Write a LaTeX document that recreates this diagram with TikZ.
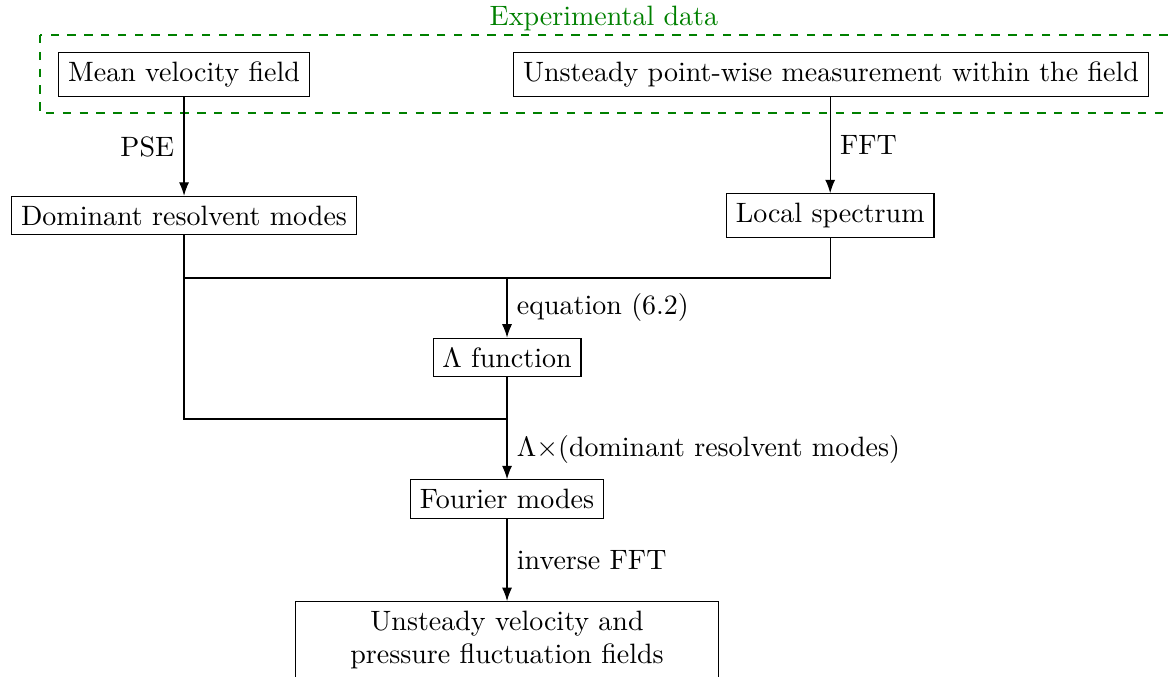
\documentclass[tikz,border=0pt]{standalone}
\usepackage{amsmath,amssymb}
\usepackage{tikz}
\usetikzlibrary{arrows.meta,calc,positioning}
\definecolor{expgreen}{rgb}{0.0,0.5,0.0}

\begin{document}
\begin{tikzpicture}[
  >=Latex,
  block/.style={draw, rectangle, inner sep=3.33pt},
  flow/.style={->},
  label/.style={font=\normalsize},
  expbox/.style={draw=expgreen, dashed}
]
  \useasboundingbox (0,0) rectangle (14.66,-8.497);

  % experimental data
  \draw[expbox] (0.502,-0.439) rectangle (14.72,-1.418);
  \node[text=expgreen] (exp) at (7.58,-0.235) {Experimental data};

  \node[block] (mean) at (2.310,-0.935) {Mean velocity field};
  \node[block] (meas) at (10.43,-0.935) {Unsteady point-wise measurement within the field};

  \node[block] (dom) at (2.310,-2.705) {Dominant resolvent modes};
  \node[block] (loc) at (10.42,-2.705) {Local spectrum};

  \node[block] (lam) at (6.364,-4.487) {$\Lambda$ function};
  \node[block] (four) at (6.364,-6.263) {Fourier modes};
  \node[block, anchor=north, align=center, minimum width=151pt] (out) at (6.364,-7.544)
    {Unsteady velocity and\\pressure fluctuation fields};

  \coordinate (j1) at (6.364,-3.489);
  \coordinate (j2) at (6.364,-5.259);

  \draw[flow] (mean) -- node[left,label] {PSE} (dom);
  \draw[flow] (loc.north |- meas.south) -- node[right,label] {FFT} (loc);

  \draw (dom.south) |- (j2);
  \draw (dom.south |- j1) -| (loc.south);
  \draw[flow] (j1) -- node[right,label] {equation (6.2)} (lam);
  \draw (lam) -- (j2);
  \draw[flow] (j2) -- node[right,label] {$\Lambda{\times}$(dominant resolvent modes)} (four);
  \draw[flow] (four) -- node[right,label] {inverse FFT} (out);
\end{tikzpicture}
\end{document}
